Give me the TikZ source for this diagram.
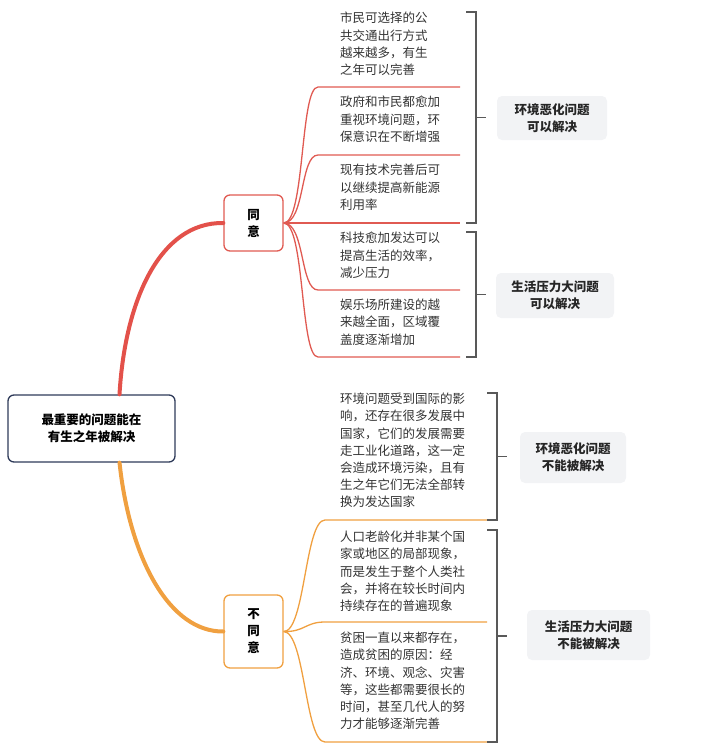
\documentclass[tikz,border=0pt]{standalone}
\usepackage{fontspec}
\setmainfont{Noto Sans CJK SC}
\definecolor{rootline}{HTML}{2E3A59}
\definecolor{agreeline}{HTML}{E05A52}
\definecolor{disline}{HTML}{F0A040}
\definecolor{sumfill}{HTML}{F2F3F5}
\tikzset{
  leaf/.style={anchor=north west, inner sep=0pt, align=left, font=\fontsize{12.5}{17.2}\selectfont, text=black!80},
  sumbox/.style={fill=sumfill, rounded corners=5pt, align=center, font=\fontsize{12.5}{17}\selectfont\bfseries, text=black!85},
  bracket/.style={draw=black!65, line width=1.2pt},
}
\begin{document}
\begin{tikzpicture}[x=1pt,y=-1pt]
  \useasboundingbox (0,0) rectangle (707,755);

  % root and the two sides
  \node[draw=rootline, line width=1.3pt, rounded corners=6pt, minimum width=167pt, minimum height=67pt,
        align=center, font=\fontsize{12.5}{17}\selectfont\bfseries] (root) at (91.5,428.5)
        {最重要的问题能在\\有生之年被解决};
  \node[draw=agreeline, line width=1.3pt, rounded corners=6pt, minimum width=59pt, minimum height=56pt,
        align=center, font=\fontsize{12.5}{17}\selectfont\bfseries] (agree) at (253.5,223) {同\\意};
  \node[draw=disline, line width=1.3pt, rounded corners=6pt, minimum width=59pt, minimum height=73pt,
        align=center, font=\fontsize{12.5}{17}\selectfont\bfseries] (disagree) at (253.5,631.5) {不\\同\\意};

  \draw[agreeline!90!red, line width=4pt, line cap=round] (root.north) ++(28,0) coordinate (rt)
       .. controls (125,300) and (160,222) .. (agree.west);
  \draw[disline, line width=4pt, line cap=round] (root.south) ++(28,0)
       .. controls (130,560) and (170,632) .. (disagree.west);

  % agree leaves
  \foreach \y/\t in {12/{市民可选择的公\\共交通出行方式\\越来越多，有生\\之年可以完善},
                     96/{政府和市民都愈加\\重视环境问题，环\\保意识在不断增强},
                     164/{现有技术完善后可\\以继续提高新能源\\利用率},
                     232/{科技愈加发达可以\\提高生活的效率，\\减少压力},
                     299/{娱乐场所建设的越\\来越全面，区域覆\\盖度逐渐增加}}
    \node[leaf] at (340,\y) {\t};
  \foreach \y/\n in {87/a1,155/a2,223/a3,290/a4,357/a5}{
    \coordinate (\n) at (318,\y);
    \draw[agreeline, line width=1.3pt] (agree.east) .. controls (305,223) and (300,\y) .. (\n) -- (460,\y);
  }

  % disagree leaves
  \foreach \y/\t in {393/{环境问题受到国际的影\\响，还存在很多发展中\\国家，它们的发展需要\\走工业化道路，这一定\\会造成环境污染，且有\\生之年它们无法全部转\\换为发达国家},
                     531/{人口老龄化并非某个国\\家或地区的局部现象，\\而是发生于整个人类社\\会，并将在较长时间内\\持续存在的普遍现象},
                     632/{贫困一直以来都存在，\\造成贫困的原因：经\\济、环境、观念、灾害\\等，这些都需要很长的\\时间，甚至几代人的努\\力才能够逐渐完善}}
    \node[leaf] at (340,\y) {\t};
  \foreach \y/\n in {520/d1,622/d2,742/d3}{
    \coordinate (\n) at (325,\y);
    \draw[disline, line width=1.3pt] (disagree.east) .. controls (305,632) and (305,\y) .. (\n) -- (487,\y);
  }

  % brackets and summaries
  \node[sumbox, minimum width=110pt, minimum height=44pt] (s1) at (552,118) {环境恶化问题\\可以解决};
  \node[sumbox, minimum width=118pt, minimum height=45pt] (s2) at (555,295.5) {生活压力大问题\\可以解决};
  \node[sumbox, minimum width=106pt, minimum height=51pt] (s3) at (573,457.5) {环境恶化问题\\不能被解决};
  \node[sumbox, minimum width=123pt, minimum height=50pt] (s4) at (588.5,635) {生活压力大问题\\不能被解决};
  \foreach \top/\bot/\x/\s in {12/223/476/s1, 232/357/476/s2, 393/520/497/s3, 530/742/497/s4}{
    \draw[bracket] (\x-10,\top) -- (\x,\top) -- (\x,\bot) -- (\x-10,\bot);
    \draw[bracket] (\x,{(\top+\bot)/2}) -- (\x+10,{(\top+\bot)/2});
  }
\end{tikzpicture}
\end{document}
